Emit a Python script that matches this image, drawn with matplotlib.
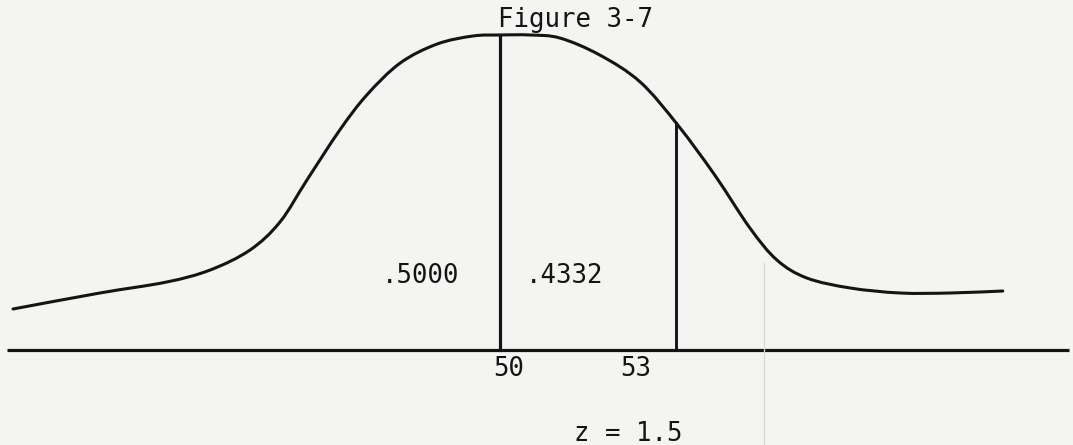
import numpy as np
import matplotlib
matplotlib.use("Agg")
import matplotlib.pyplot as plt
from matplotlib.path import Path
from matplotlib.patches import PathPatch

# Hand-drawn bell curve: score values and heights above the baseline
curve_x = [41.70, 43.18, 44.32, 45.06, 45.74, 46.25, 46.71, 47.27, 47.73,
           48.30, 48.93, 49.54, 50.00, 50.51, 51.02, 51.70, 52.39, 53.03,
           53.66, 54.26, 54.72, 55.23, 55.97, 56.82, 57.67, 58.57]
curve_y = [0.41, 0.57, 0.68, 0.80, 1.00, 1.28, 1.70, 2.20, 2.55,
           2.87, 3.06, 3.14, 3.15, 3.15, 3.12, 2.95, 2.68, 2.25,
           1.75, 1.22, 0.90, 0.72, 0.62, 0.57, 0.57, 0.59]

mean_score = 50
cut_score = 53
z_value = 1.5
area_left = ".5000"
area_between = ".4332"
title = "Figure 3-7"

ink = "#141414"
paper = "#f4f4f2"
mono = ["DejaVu Sans Mono"]

fig = plt.figure(figsize=(10.73, 4.45), dpi=100)
fig.patch.set_facecolor(paper)
ax = fig.add_axes([0, 0, 1, 1])
ax.set_facecolor(paper)
ax.set_xlim(41.478, 59.767)
ax.set_ylim(-0.95, 3.50)
ax.axis("off")

# Pen stroke passing through the traced points (Catmull-Rom as cubic Beziers)
pts = np.column_stack([curve_x, curve_y])
ext = np.vstack([pts[0], pts, pts[-1]])
verts = [pts[0]]
codes = [Path.MOVETO]
for i in range(1, len(ext) - 2):
    p0, p1, p2, p3 = ext[i - 1], ext[i], ext[i + 1], ext[i + 2]
    verts += [p1 + (p2 - p0) / 6, p2 - (p3 - p1) / 6, p2]
    codes += [Path.CURVE4] * 3
ax.add_patch(PathPatch(Path(verts, codes), facecolor="none",
                       edgecolor=ink, lw=2.2, capstyle="round",
                       joinstyle="round"))

# Baseline
ax.plot([41.60, 59.70], [0, 0], color=ink, lw=2.3, solid_capstyle="butt")

# Ordinates at the mean and at the cut score
top_mean = np.interp(mean_score, curve_x, curve_y)
top_cut = np.interp(cut_score, curve_x, curve_y)
ax.plot([mean_score, mean_score], [0, top_mean], color=ink, lw=2.3)
ax.plot([cut_score, cut_score], [0, top_cut], color=ink, lw=2.1)

# Faint crease in the paper
ax.plot([54.50, 54.50], [-0.95, 0.87], color="#d8d8d6", lw=0.9)

fs = 18.5
ax.text(51.28, 3.30, title, ha="center", va="center", fontsize=fs,
        family=mono, color=ink)
ax.text(48.64, 0.74, area_left, ha="center", va="center", fontsize=fs,
        family=mono, color=ink)
ax.text(51.11, 0.74, area_between, ha="center", va="center", fontsize=fs,
        family=mono, color=ink)
ax.text(50.14, -0.19, str(mean_score), ha="center", va="center",
        fontsize=fs, family=mono, color=ink)
ax.text(52.32, -0.19, str(cut_score), ha="center", va="center",
        fontsize=fs, family=mono, color=ink)
ax.text(52.18, -0.84, f"z = {z_value}", ha="center", va="center",
        fontsize=fs, family=mono, color=ink)

fig.savefig("out.png", dpi=100, facecolor=paper)
